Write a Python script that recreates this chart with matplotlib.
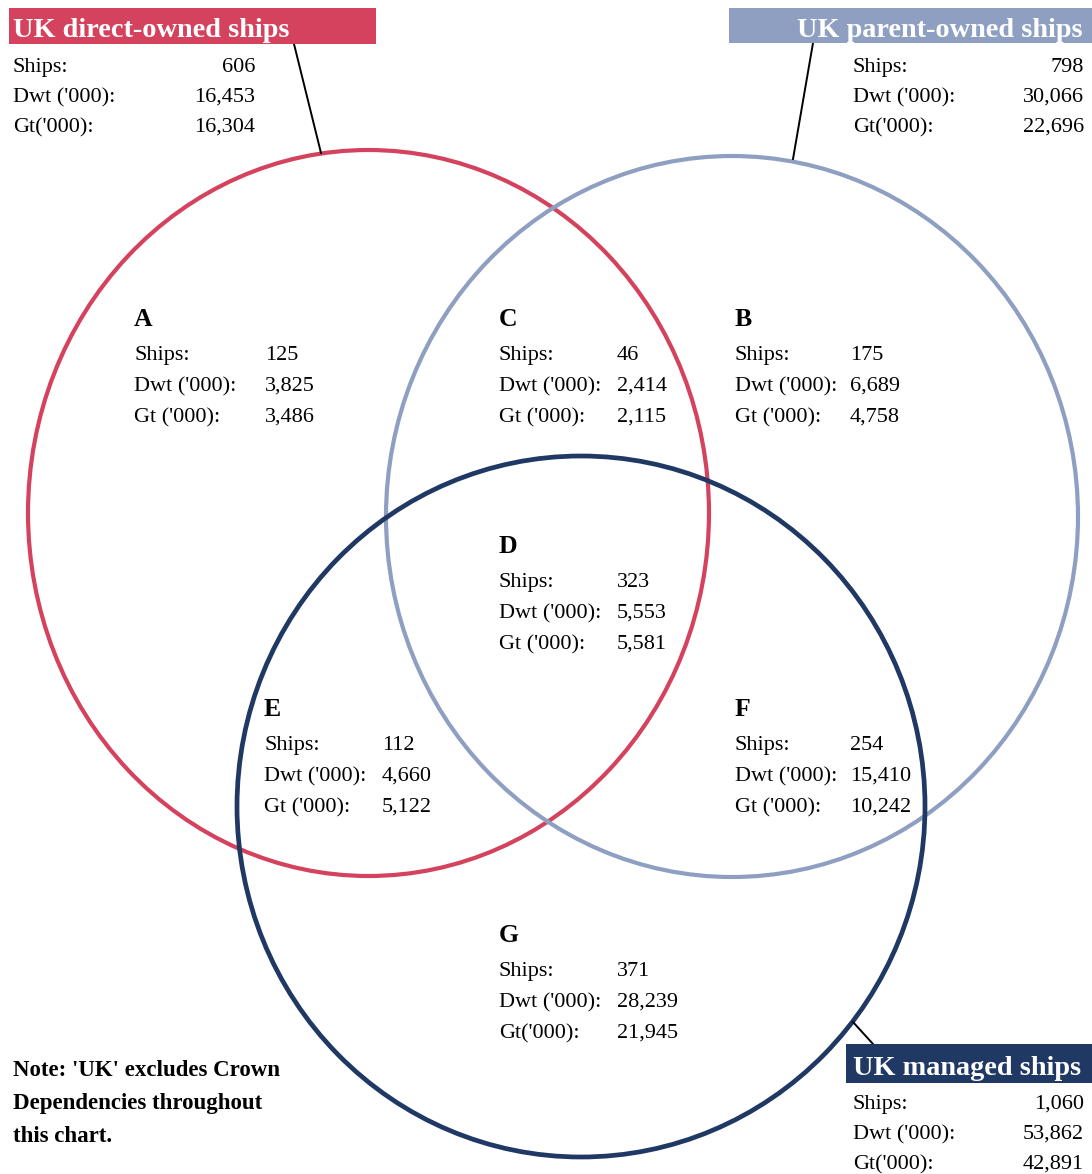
import matplotlib
matplotlib.use("Agg")
import matplotlib.pyplot as plt
from matplotlib.patches import Ellipse, Rectangle

plt.rcParams['font.family'] = ['Liberation Serif', 'DejaVu Serif']

# ---------------- data ----------------
region_letters = ['A', 'C', 'B', 'D', 'E', 'F', 'G']
region_ships = [125, 46, 175, 323, 112, 254, 371]
region_dwt = [3825, 2414, 6689, 5553, 4660, 15410, 28239]
region_gt = [3486, 2115, 4758, 5581, 5122, 10242, 21945]
region_gt_labels = ["Gt ('000):"] * 6 + ["Gt('000):"]

set_names = ['UK direct-owned ships', 'UK parent-owned ships', 'UK managed ships']
set_ships = [606, 798, 1060]
set_dwt = [16453, 30066, 53862]
set_gt = [16304, 22696, 42891]

note_lines = ["Note: 'UK' excludes Crown", "Dependencies throughout", "this chart."]

# ---------------- layout / style ----------------
W, H = 1092, 1174
colors = ['#D4425E', '#8E9FC2', '#203864']
# ellipse centres and radii (pixels)
ell = [((368.5, 513), 340.5, 363), ((732, 516.5), 346, 360.5), ((581, 806.5), 344, 350.5)]
ell_lw = [3.0, 3.0, 3.4]

# region text anchors: (label x, value x, letter baseline y)
region_pos = [(134, 265, 326), (499, 617, 326), (735, 850, 326),
              (499, 617, 553), (264, 382, 716), (735, 850, 716),
              (499, 617, 942)]

# header boxes: (x0, y0, x1, y1), text x, text align, baseline
boxes = [((9, 8, 376, 44), 13, 'left', 37),
         ((729, 8, 1092, 43), 1083, 'right', 37),
         ((846, 1044, 1092, 1083), 853, 'left', 1075)]
# totals rows: label x, value right x, first baseline
totals_pos = [(13, 255, 72), (853, 1084, 72), (853, 1084, 1109)]
leaders = [((294, 44), (321, 153)), ((813, 43), (793, 159)), ((853, 1022), (873, 1044))]

fig = plt.figure(figsize=(W / 100, H / 100), dpi=100)
ax = fig.add_axes([0, 0, 1, 1])
ax.set_xlim(0, W)
ax.set_ylim(H, 0)
ax.axis('off')

for (c, rx, ry), col, lw, z in zip(ell, colors, ell_lw, [2, 3, 4]):
    ax.add_patch(Ellipse(c, 2 * rx, 2 * ry, fill=False, edgecolor=col, lw=lw, zorder=z))

body_fs = 16
for i, letter in enumerate(region_letters):
    lx, vx, by = region_pos[i]
    ax.text(lx, by, letter, fontsize=18.5, fontweight='bold', va='baseline', ha='left', zorder=8)
    labels = ["Ships:", "Dwt ('000):", region_gt_labels[i]]
    vals = [region_ships[i], region_dwt[i], region_gt[i]]
    for k, (lab, v) in enumerate(zip(labels, vals)):
        y = by + 34 + 31 * k
        ax.text(lx, y, lab, fontsize=body_fs, va='baseline', ha='left', zorder=8)
        ax.text(vx, y, f"{v:,}", fontsize=body_fs, va='baseline', ha='left', zorder=8)

for j, name in enumerate(set_names):
    (x0, y0, x1, y1), tx, ha, tb = boxes[j]
    (xa, ya), (xb, yb) = leaders[j]
    ax.plot([xa, xb], [ya, yb], color='black', lw=1.4, zorder=5)
    ax.add_patch(Rectangle((x0, y0), x1 - x0, y1 - y0, facecolor=colors[j], edgecolor='none', zorder=6))
    ax.text(tx, tb, name, fontsize=20.3, fontweight='bold', color='white', ha=ha, va='baseline', zorder=8)
    lx, vx, by = totals_pos[j]
    labels = ["Ships:", "Dwt ('000):", "Gt('000):"]
    vals = [set_ships[j], set_dwt[j], set_gt[j]]
    for k, (lab, v) in enumerate(zip(labels, vals)):
        y = by + 30 * k
        ax.text(lx, y, lab, fontsize=body_fs, va='baseline', ha='left', zorder=8)
        ax.text(vx, y, f"{v:,}", fontsize=body_fs, va='baseline', ha='right', zorder=8)

for k, line in enumerate(note_lines):
    ax.text(13, 1076 + 33 * k, line, fontsize=16.5, fontweight='bold', va='baseline', ha='left')

fig.savefig('out.png', dpi=100)
